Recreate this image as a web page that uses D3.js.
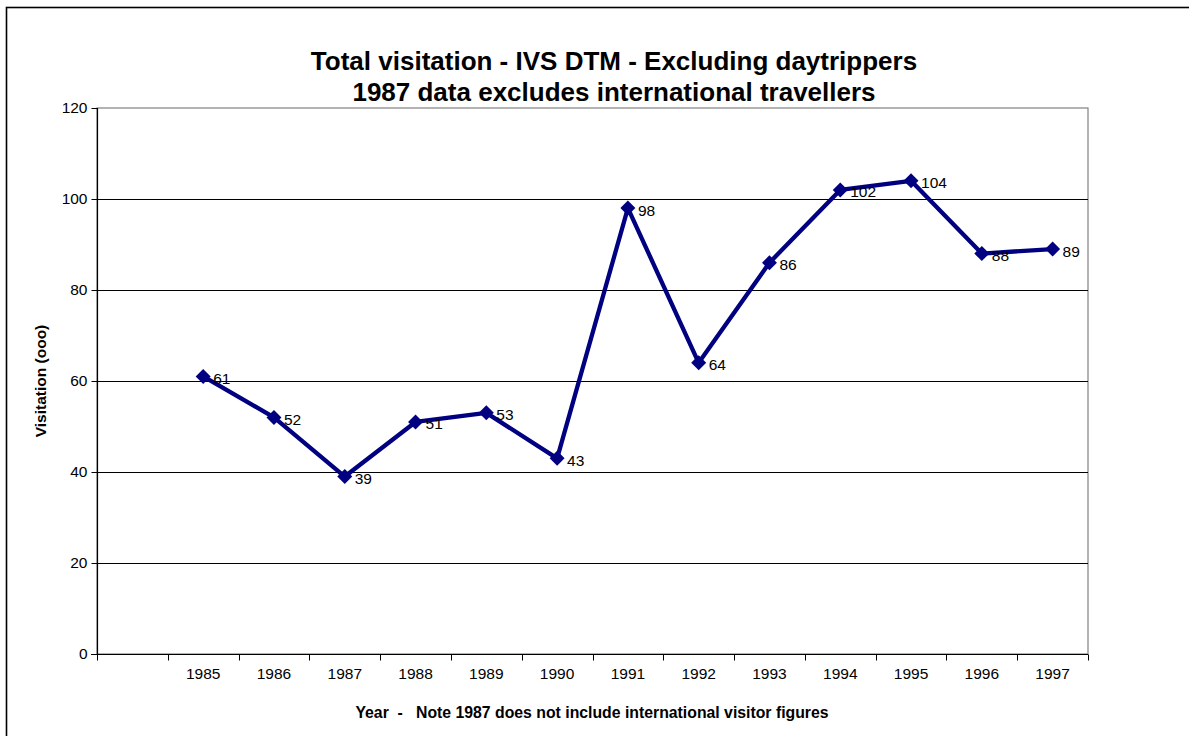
<!DOCTYPE html>
<html>
<head>
<meta charset="utf-8">
<script src="https://cdn.jsdelivr.net/npm/d3@7"></script>
<style>
  body { margin: 0; background: #fff; }
  svg { font-family: "Liberation Sans", Arial, sans-serif; }
</style>
</head>
<body>
<script>
// chart values
var categories = ["", "1985", "1986", "1987", "1988", "1989", "1990", "1991", "1992", "1993", "1994", "1995", "1996", "1997"];
var years = ["1985", "1986", "1987", "1988", "1989", "1990", "1991", "1992", "1993", "1994", "1995", "1996", "1997"];
var visitation = [61, 52, 39, 51, 53, 43, 98, 64, 86, 102, 104, 88, 89];
var yTicks = [0, 20, 40, 60, 80, 100, 120];

var width = 1189;
var height = 736;
var plotLeft = 97, plotRight = 1088, plotTop = 108, plotBottom = 654;

var svg = d3.select("body").append("svg")
            .attr("width", width)
            .attr("height", height);

// outer chart frame (runs off the right / bottom edge)
svg.append("rect")
   .attr("x", 6.5).attr("y", 7.5)
   .attr("width", 1200).attr("height", 800)
   .attr("fill", "none")
   .attr("stroke", "#000")
   .attr("stroke-width", 1.6);

var x = d3.scaleBand()
          .domain(categories)
          .range([plotLeft, plotRight])
          .padding(0);

var y = d3.scaleLinear()
          .domain([0, 120])
          .range([plotBottom, plotTop]);

// plot area border (grey top / right)
svg.append("rect")
   .attr("x", plotLeft).attr("y", plotTop)
   .attr("width", plotRight - plotLeft).attr("height", plotBottom - plotTop)
   .attr("fill", "none")
   .attr("stroke", "#808080")
   .attr("stroke-width", 1.2);

// gridlines
svg.append("g")
   .selectAll("line")
   .data(yTicks.filter(function(d){ return d > 0 && d < 120; }))
   .enter().append("line")
   .attr("x1", plotLeft).attr("x2", plotRight)
   .attr("y1", function(d){ return Math.round(y(d)) + 0.5; })
   .attr("y2", function(d){ return Math.round(y(d)) + 0.5; })
   .attr("stroke", "#000")
   .attr("stroke-width", 1);

// y axis
var yAxis = svg.append("g")
   .attr("transform", "translate(" + (plotLeft + 0.5) + ",0)")
   .call(d3.axisLeft(y).tickValues(yTicks).tickSize(6).tickPadding(4));

// x axis: ticks at category boundaries, labels at centres
var xAxis = svg.append("g")
   .attr("transform", "translate(0," + (plotBottom + 0.5) + ")")
   .call(d3.axisBottom(x).tickSize(0).tickPadding(13));

xAxis.selectAll(".xb")
   .data(d3.range(categories.length + 1))
   .enter().append("line")
   .attr("class", "xb")
   .attr("x1", function(i){ return Math.round(plotLeft + i * x.bandwidth()) + 0.5; })
   .attr("x2", function(i){ return Math.round(plotLeft + i * x.bandwidth()) + 0.5; })
   .attr("y1", 0).attr("y2", 6)
   .attr("stroke", "#000");

[yAxis, xAxis].forEach(function(g){
  g.select(".domain").attr("stroke", "#000").attr("stroke-width", 1.2);
  g.selectAll(".tick line").attr("stroke", "#000");
  g.selectAll(".tick text")
   .attr("fill", "#000")
   .style("font-family", "'Liberation Sans', Arial, sans-serif")
   .style("font-size", "15.5px");
});
yAxis.select(".domain").attr("d", "M0," + plotBottom + "V" + plotTop);
xAxis.select(".domain").attr("d", "M" + (plotLeft - 6) + ",0H" + plotRight);

// series
var pts = years.map(function(yr, i){ return { year: yr, value: visitation[i] }; });
var cx = function(d){ return x(d.year) + x.bandwidth() / 2; };

svg.append("path")
   .datum(pts)
   .attr("fill", "none")
   .attr("stroke", "#000080")
   .attr("stroke-width", 4.3)
   .attr("stroke-linejoin", "round")
   .attr("d", d3.line().x(cx).y(function(d){ return y(d.value); }));

svg.append("g")
   .selectAll("path")
   .data(pts)
   .enter().append("path")
   .attr("d", d3.symbol().type(d3.symbolSquare).size(112))
   .attr("transform", function(d){ return "translate(" + cx(d) + "," + y(d.value) + ") rotate(45)"; })
   .attr("fill", "#000080");

svg.append("g")
   .selectAll("text")
   .data(pts)
   .enter().append("text")
   .attr("x", function(d){ return cx(d) + 10; })
   .attr("y", function(d){ return y(d.value) + 7.5; })
   .attr("font-size", "15.5px")
   .attr("fill", "#000")
   .text(function(d){ return d.value; });

// titles
svg.append("text")
   .attr("x", 614).attr("y", 70)
   .attr("text-anchor", "middle")
   .attr("font-weight", "bold")
   .attr("font-size", "26px")
   .text("Total visitation - IVS DTM - Excluding daytrippers");

svg.append("text")
   .attr("x", 614).attr("y", 101)
   .attr("text-anchor", "middle")
   .attr("font-weight", "bold")
   .attr("font-size", "26px")
   .text("1987 data excludes international travellers");

svg.append("text")
   .attr("transform", "translate(46,381) rotate(-90)")
   .attr("text-anchor", "middle")
   .attr("font-weight", "bold")
   .attr("font-size", "15.5px")
   .text("Visitation (ooo)");

svg.append("text")
   .attr("x", 592).attr("y", 718)
   .attr("text-anchor", "middle")
   .attr("font-weight", "bold")
   .attr("font-size", "15.8px")
   .style("white-space", "pre")
   .text("Year  -   Note 1987 does not include international visitor figures");
</script>
</body>
</html>
